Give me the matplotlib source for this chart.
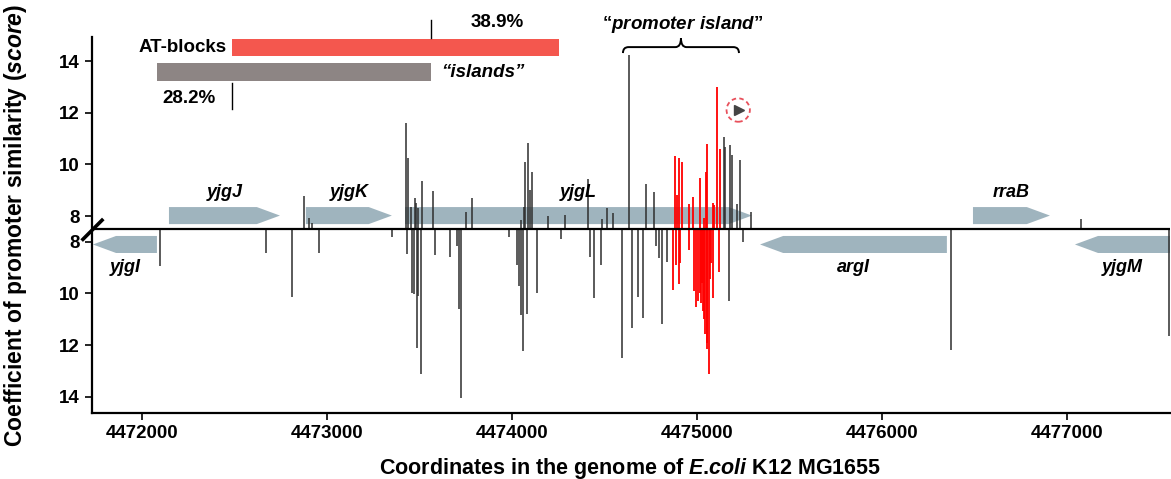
import matplotlib
matplotlib.use("Agg")
import matplotlib.pyplot as plt
from matplotlib.patches import Polygon, Ellipse, PathPatch
from matplotlib.path import Path

plt.rcParams.update({
    "font.family": "Liberation Sans",
    "font.weight": "bold",
    "axes.labelweight": "bold",
    "font.size": 13.5,
    "mathtext.fontset": "custom",
    "mathtext.rm": "Liberation Sans:bold",
    "mathtext.it": "Liberation Sans:italic:bold",
    "mathtext.bf": "Liberation Sans:bold",
})

BASE = 7.5  # score at which the two strand panels meet

# promoter hits, plus strand (drawn upwards)
plus_black_pos = [4472876, 4472903, 4472919, 4473425, 4473436, 4473454, 4473476,
                  4473481, 4473494, 4473514, 4473571, 4473751, 4473785, 4474047,
                  4474063, 4474070, 4474088, 4474099, 4474108, 4474193, 4474285,
                  4474409, 4474485, 4474515, 4474547, 4474634, 4474726, 4474768,
                  4475144, 4475150, 4475180, 4475188, 4475215, 4475234, 4475290,
                  4477076]
plus_black_score = [8.78, 7.93, 7.73, 11.62, 10.26, 8.36, 8.70,
                    8.50, 8.31, 9.36, 8.96, 8.15, 8.71, 7.85,
                    8.36, 10.09, 10.82, 9.01, 9.70, 8.00, 8.05,
                    9.43, 7.89, 8.30, 8.11, 14.24, 9.24, 8.92,
                    11.05, 10.69, 10.76, 10.37, 8.46, 10.17, 8.17,
                    7.88]
plus_red_pos = [4474883, 4474894, 4474901, 4474919, 4474958, 4474977, 4475018,
                4475038, 4475047, 4475056, 4475085, 4475093, 4475106, 4475124]
plus_red_score = [10.33, 8.82, 10.26, 10.08, 8.45, 8.73, 9.49,
                  7.94, 9.72, 10.78, 8.52, 8.43, 13.02, 10.60]

# promoter hits, minus strand (drawn downwards)
minus_black_pos = [4472097, 4472669, 4472809, 4472957, 4473350, 4473434, 4473461,
                   4473470, 4473485, 4473494, 4473506, 4473584, 4473665, 4473704,
                   4473715, 4473723, 4473984, 4474025, 4474039, 4474047, 4474061,
                   4474079, 4474133, 4474263, 4474422, 4474443, 4474479, 4474596,
                   4474650, 4474683, 4474706, 4474778, 4474796, 4474812, 4474838,
                   4475175, 4475247, 4476373, 4477551]
minus_black_score = [8.93, 8.44, 10.12, 8.42, 7.82, 8.48, 9.97,
                     10.03, 12.10, 10.10, 13.13, 8.52, 8.59, 8.16,
                     10.61, 14.06, 7.80, 8.91, 9.71, 10.84, 12.23,
                     10.78, 9.99, 7.90, 8.57, 10.16, 8.91, 12.49,
                     11.33, 10.12, 10.96, 8.16, 8.61, 11.20, 8.78,
                     10.29, 8.00, 12.19, 11.65]
minus_red_pos = [4474868, 4474886, 4474901, 4474911, 4474955, 4474983, 4474994,
                 4475007, 4475016, 4475021, 4475027, 4475034, 4475038, 4475043,
                 4475052, 4475056, 4475063, 4475070, 4475075, 4475085, 4475120]
minus_red_score = [9.88, 8.91, 9.62, 8.81, 8.31, 9.90, 10.52,
                   10.29, 10.00, 10.38, 9.60, 10.68, 11.00, 11.58,
                   12.16, 11.90, 13.11, 9.45, 8.80, 10.16, 9.17]

# genes
gene_names = ["yjgI", "yjgJ", "yjgK", "yjgL", "argI", "rraB", "yjgM"]
gene_start = [4471735, 4472146, 4472886, 4473422, 4475341, 4476492, 4477043]
gene_end = [4472081, 4472746, 4473351, 4475297, 4476351, 4476908, 4477620]
gene_strand = [-1, 1, 1, 1, -1, 1, -1]

# AT-rich blocks vs. promoter "islands"
at_blocks = (4472487, 4474254)
islands = (4472083, 4473560)
at_blocks_label = "38.9%"
islands_label = "28.2%"
promoter_island = (4474600, 4475227)

xticks = [4472000, 4473000, 4474000, 4475000, 4476000, 4477000]
score_ticks = [8, 10, 12, 14]

GENE_COLOR = "#9fb4be"
STEM_COLOR = "#2e2e2e"
RED = "#ff0000"

fig = plt.figure(figsize=(11.71, 4.79), dpi=100)
ax = fig.add_axes([92 / 1171, 66 / 479, 1078 / 1171, 413 / 479])
ax.set_xlim(4471730, 4477557)
ax.set_ylim(-7.132, 8.876)


def up(scores):
    return [s - BASE for s in scores]


def down(scores):
    return [-(s - BASE) for s in scores]


# gene arrows
head = 125
for name, g0, g1, strand in zip(gene_names, gene_start, gene_end, gene_strand):
    h = min(head, g1 - g0)
    if strand > 0:
        y0, y1 = 0.19, 0.85
        pts = [(g0, y0), (g1 - h, y0), (g1, (y0 + y1) / 2), (g1 - h, y1), (g0, y1)]
        ly = 1.40
    else:
        y0, y1 = -0.93, -0.27
        pts = [(g1, y0), (g0 + h, y0), (g0, (y0 + y1) / 2), (g0 + h, y1), (g1, y1)]
        ly = -1.49
    ax.add_patch(Polygon(pts, closed=True, facecolor=GENE_COLOR, edgecolor="none", zorder=2))
    cx = (g0 + min(g1, 4477557)) / 2
    ax.text(cx, ly, name, ha="center", va="center", style="italic",
            fontsize=13, zorder=5)

# stems
ax.vlines(plus_black_pos, 0, up(plus_black_score), colors=STEM_COLOR, lw=1.1, zorder=3)
ax.vlines(minus_black_pos, 0, down(minus_black_score), colors=STEM_COLOR, lw=1.1, zorder=3)
ax.vlines(plus_red_pos, 0, up(plus_red_score), colors=RED, lw=1.3, zorder=4)
ax.vlines(minus_red_pos, 0, down(minus_red_score), colors=RED, lw=1.3, zorder=4)

# strand baseline
ax.axhline(0, color="black", lw=1.6, zorder=6)

# axis break mark
ax.plot([4471674, 4471791], [-0.45, 0.39], color="black", lw=2.6,
        clip_on=False, zorder=7, solid_capstyle="butt")

# AT-blocks / islands bars
ax.barh(7.03, at_blocks[1] - at_blocks[0], left=at_blocks[0], height=0.66,
        color="#f4574e", zorder=2)
ax.barh(6.08, islands[1] - islands[0], left=islands[0], height=0.69,
        color="#8d8584", zorder=2)
ax.text(at_blocks[0] - 28, 7.03, "AT-blocks", ha="right", va="center", fontsize=13.5)
ax.text(islands[1] + 60, 6.08, "\u201cislands\u201d", ha="left", va="center",
        style="italic", fontsize=13.5)
ax.plot([islands[1], islands[1]], [7.40, 8.10], color="black", lw=1.0)
ax.text(4473919, 8.0, at_blocks_label, ha="center", va="center", fontsize=13.5)
ax.plot([at_blocks[0], at_blocks[0]], [4.65, 5.66], color="black", lw=1.0)
ax.text(4472254, 5.04, islands_label, ha="center", va="center", fontsize=13.5)

# "promoter island" brace
x0, x1 = promoter_island
xm = (x0 + x1) / 2
r = 30
ye, ymid, ytip = 6.82, 7.05, 7.40
verts = [(x0, ye), (x0, ymid), (x0 + r, ymid), (xm - r, ymid), (xm, ymid), (xm, ytip),
         (xm, ymid), (xm + r, ymid), (x1 - r, ymid), (x1, ymid), (x1, ye)]
codes = [Path.MOVETO, Path.CURVE3, Path.CURVE3, Path.LINETO, Path.CURVE3, Path.CURVE3,
         Path.CURVE3, Path.CURVE3, Path.LINETO, Path.CURVE3, Path.CURVE3]
ax.add_patch(PathPatch(Path(verts, codes), facecolor="none", edgecolor="black", lw=1.4))
ax.text(xm + 10, 7.91, "\u201c$\\mathit{promoter\\ island}$\u201d", ha="center",
        va="center", fontsize=13.5)

# dashed circle with marker
ax.add_patch(Ellipse((4475223, 4.61), 126, 0.907, facecolor="none",
                     edgecolor="#e8505b", lw=1.3, linestyle=(0, (2.5, 1.8)), zorder=5))
ax.plot([4475228], [4.61], marker=">", color="#444444", markersize=6.5, zorder=6)

# axes styling
for side in ("top", "right"):
    ax.spines[side].set_visible(False)
ax.spines["left"].set_bounds(-7.132, 7.44)
ax.spines["left"].set_linewidth(1.6)
ax.spines["bottom"].set_linewidth(1.6)

ytick_pos = [s - BASE for s in score_ticks] + [-(s - BASE) for s in score_ticks]
ax.set_yticks(ytick_pos)
ax.set_yticklabels([str(s) for s in score_ticks] * 2)
ax.set_xticks(xticks)
ax.set_xticklabels([str(x) for x in xticks])
ax.tick_params(axis="both", length=5, width=1.2, labelsize=13.5, pad=4)

ax.set_ylabel("Coefficient of promoter similarity ($\\mathit{score}$)",
              fontsize=16.5, fontweight="bold")
ax.yaxis.set_label_coords(-0.058, 0.455)
ax.set_xlabel("Coordinates in the genome of $\\mathit{E}$.$\\mathit{coli}$ K12 MG1655",
              fontsize=15.5, fontweight="bold")
ax.xaxis.set_label_coords(0.499, -0.104)

fig.savefig("out.png", dpi=100)
